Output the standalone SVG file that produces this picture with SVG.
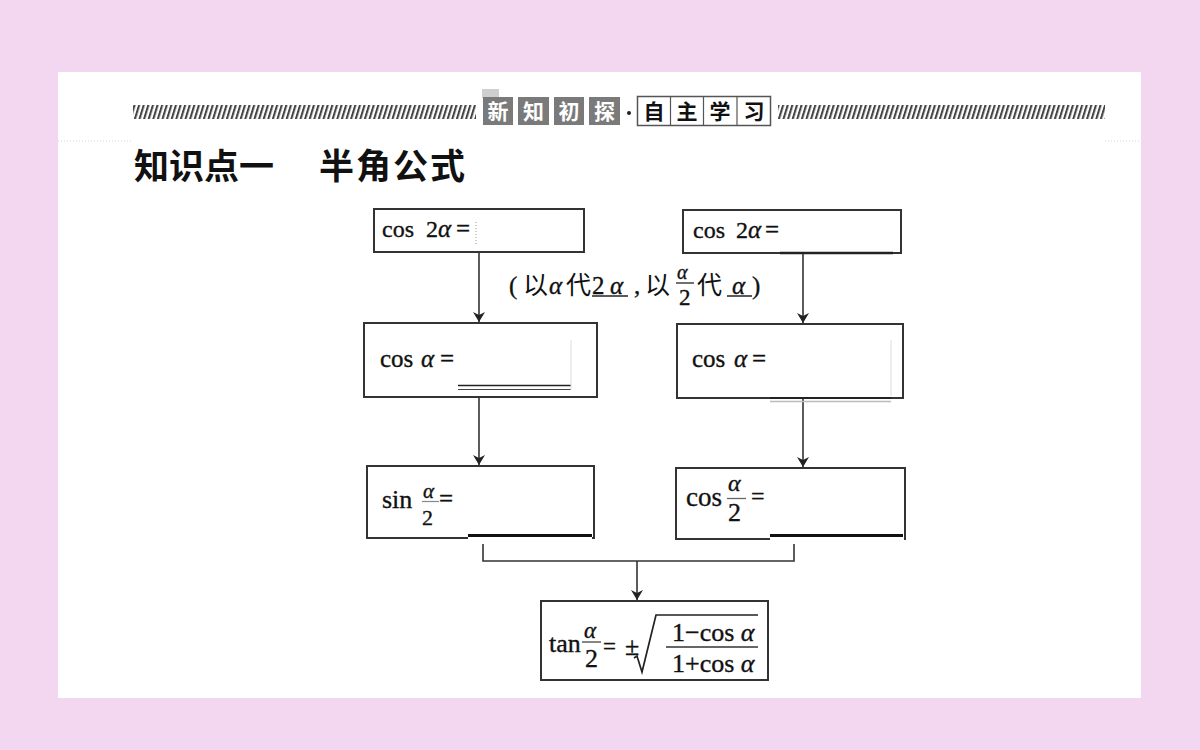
<svg xmlns="http://www.w3.org/2000/svg" width="1200" height="750" viewBox="0 0 1200 750">
<defs>
<pattern id="hatch" patternUnits="userSpaceOnUse" width="4.6" height="14" patternTransform="skewX(-17)">
<rect x="0" y="0" width="2.2" height="14" fill="#444"/>
</pattern>
<marker id="arr" viewBox="0 0 10 12" refX="10" refY="6" markerWidth="10" markerHeight="12" markerUnits="userSpaceOnUse" orient="auto">
<path d="M0,0 L10,6 L0,12 L3,6 Z" fill="#222"/>
</marker>
<style>
.box{fill:#fff;stroke:#333;stroke-width:2}
.m{font-family:"Liberation Serif","Times New Roman",serif;fill:#111;stroke:#111;stroke-width:0.35}
.i{font-style:italic}
.cj{font-family:"Noto Sans CJK SC","Noto Sans",sans-serif;fill:#111}
.con{fill:none;stroke:#333;stroke-width:1.6}
.hd{fill:#7a7a7a}
.hdt{font-family:"Noto Sans CJK SC",sans-serif;font-weight:bold;font-size:21px;fill:#fff;text-anchor:middle}
.hwt{font-family:"Noto Sans CJK SC",sans-serif;font-weight:bold;font-size:21px;fill:#111;text-anchor:middle}
</style>
</defs>
<rect x="0" y="0" width="1200" height="750" fill="#f3d7f0"/>
<rect x="58" y="72" width="1083" height="626" fill="#fff"/>

<g id="header">
<rect x="133" y="105" width="343" height="14" fill="url(#hatch)"/>
<rect x="778" y="105" width="327" height="14" fill="url(#hatch)"/>
<rect x="482" y="89" width="17" height="9" fill="#cfcfcf"/>
<rect class="hd" x="483" y="97" width="30" height="28"/>
<rect class="hd" x="518" y="97" width="31" height="28"/>
<rect class="hd" x="554" y="97" width="30" height="28"/>
<rect class="hd" x="589" y="97" width="31" height="28"/>
<text class="hdt" x="498" y="119">新</text>
<text class="hdt" x="533.5" y="119">知</text>
<text class="hdt" x="569" y="119">初</text>
<text class="hdt" x="604.5" y="119">探</text>
<circle cx="629" cy="113" r="2" fill="#222"/>
<rect x="637.5" y="96.5" width="133" height="29" fill="#fff" stroke="#555" stroke-width="1.5"/>
<line x1="670.5" y1="97" x2="670.5" y2="125" stroke="#555" stroke-width="1.2"/>
<line x1="703.5" y1="97" x2="703.5" y2="125" stroke="#555" stroke-width="1.2"/>
<line x1="737" y1="97" x2="737" y2="125" stroke="#555" stroke-width="1.2"/>
<text class="hwt" x="654" y="119">自</text>
<text class="hwt" x="687" y="119">主</text>
<text class="hwt" x="720" y="119">学</text>
<text class="hwt" x="754" y="119">习</text>
<line x1="58" y1="141" x2="133" y2="141" stroke="#e6c8e0" stroke-width="1" stroke-dasharray="1 2"/>
<line x1="1105" y1="141" x2="1141" y2="141" stroke="#e6c8e0" stroke-width="1" stroke-dasharray="1 2"/>
</g>

<g id="title">
<text class="cj" x="134" y="179" font-size="35" font-weight="bold">知识点一</text>
<text class="cj" x="319" y="179" font-size="35" font-weight="bold" letter-spacing="2">半角公式</text>
</g>

<g id="connectors">
<line class="con" x1="479" y1="253" x2="479" y2="322" marker-end="url(#arr)"/>
<line class="con" x1="803" y1="254" x2="803" y2="323" marker-end="url(#arr)"/>
<line class="con" x1="479" y1="397" x2="479" y2="465" marker-end="url(#arr)"/>
<line class="con" x1="803" y1="398" x2="803" y2="467" marker-end="url(#arr)"/>
<polyline class="con" points="483,544 483,561 794,561 794,544"/>
<line class="con" x1="637" y1="561" x2="637" y2="600" marker-end="url(#arr)"/>
</g>

<g id="label">
<text class="m" x="509" y="294" font-size="25">(</text>
<text class="cj" x="523" y="294" font-size="25">以</text>
<text class="m i" x="549" y="294" font-size="25">α</text>
<text class="cj" x="566" y="294" font-size="25">代</text>
<text class="m" x="592" y="294" font-size="25">2</text>
<text class="m i" x="610" y="294" font-size="25">α</text>
<line x1="592" y1="296" x2="628" y2="296" stroke="#222" stroke-width="1.5"/>
<text class="m" x="634" y="294" font-size="25">,</text>
<text class="cj" x="645" y="294" font-size="25">以</text>
<text class="m i" x="677" y="279" font-size="20">α</text>
<line x1="676" y1="283" x2="694" y2="283" stroke="#222" stroke-width="1.3"/>
<text class="m" x="679" y="305" font-size="23">2</text>
<text class="cj" x="697" y="294" font-size="25">代</text>
<text class="m i" x="732" y="294" font-size="25">α</text>
<line x1="727" y1="296" x2="752" y2="296" stroke="#222" stroke-width="1.5"/>
<text class="m" x="752" y="294" font-size="25">)</text>
</g>

<g id="node-cos2a-left">
<rect class="box" x="374" y="209" width="210" height="43"/>
<text class="m" x="382" y="237" font-size="24">cos</text>
<text class="m" x="426" y="237" font-size="24">2</text>
<text class="m i" x="438" y="237" font-size="25">α</text>
<text class="m" x="456" y="237" font-size="25">=</text>
<line x1="476" y1="222" x2="476" y2="246" stroke="#999" stroke-width="1" stroke-dasharray="1 2"/>
</g>

<g id="node-cos2a-right">
<rect class="box" x="683" y="210" width="218" height="43"/>
<text class="m" x="693" y="238" font-size="24">cos</text>
<text class="m" x="736" y="238" font-size="24">2</text>
<text class="m i" x="748" y="238" font-size="25">α</text>
<text class="m" x="765" y="238" font-size="25">=</text>
<line x1="780" y1="253" x2="893" y2="253" stroke="#222" stroke-width="2.4"/>
</g>

<g id="node-cosa-left">
<rect class="box" x="364" y="323" width="233" height="74"/>
<text class="m" x="380" y="367" font-size="25">cos</text>
<text class="m i" x="421" y="367" font-size="25">α</text>
<text class="m" x="440" y="367" font-size="25">=</text>
<line x1="458" y1="385.5" x2="571" y2="385.5" stroke="#222" stroke-width="1.6"/>
<line x1="458" y1="389.5" x2="571" y2="389.5" stroke="#444" stroke-width="1.2"/>
<line x1="571" y1="340" x2="571" y2="390" stroke="#ddd" stroke-width="1"/>
</g>

<g id="node-cosa-right">
<rect class="box" x="677" y="324" width="226" height="74"/>
<text class="m" x="692" y="367" font-size="25">cos</text>
<text class="m i" x="734" y="367" font-size="25">α</text>
<text class="m" x="752" y="367" font-size="25">=</text>
<line x1="770" y1="398" x2="891" y2="398" stroke="#222" stroke-width="2.2"/>
<line x1="770" y1="401.5" x2="891" y2="401.5" stroke="#bbb" stroke-width="1.4"/>
<line x1="891" y1="340" x2="891" y2="396" stroke="#ddd" stroke-width="1"/>
</g>

<g id="node-sin-half">
<rect class="box" x="367" y="466" width="227" height="72"/>
<line x1="468" y1="538" x2="592" y2="538" stroke="#fff" stroke-width="3"/>
<line x1="468" y1="535.5" x2="592" y2="535.5" stroke="#111" stroke-width="3"/>
<text class="m" x="382" y="508" font-size="26">sin</text>
<text class="m i" x="423" y="498" font-size="21">α</text>
<line x1="422" y1="501.5" x2="439" y2="501.5" stroke="#888" stroke-width="1.2"/>
<text class="m" x="422" y="525" font-size="22">2</text>
<text class="m" x="439" y="507" font-size="25">=</text>
</g>

<g id="node-cos-half">
<rect class="box" x="676" y="468" width="229" height="71"/>
<line x1="770" y1="539" x2="904" y2="539" stroke="#fff" stroke-width="3"/>
<line x1="770" y1="535.5" x2="903" y2="535.5" stroke="#111" stroke-width="3"/>
<text class="m" x="686" y="506" font-size="27">cos</text>
<text class="m i" x="728" y="491" font-size="24">α</text>
<line x1="727" y1="498.5" x2="746" y2="498.5" stroke="#666" stroke-width="1.3"/>
<text class="m" x="728" y="521" font-size="26">2</text>
<text class="m" x="751" y="504" font-size="24">=</text>
</g>

<g id="node-tan-half">
<rect class="box" x="541" y="601" width="227" height="79"/>
<text class="m" x="549" y="652" font-size="26">tan</text>
<text class="m i" x="584" y="638" font-size="23">α</text>
<line x1="582" y1="642" x2="601" y2="642" stroke="#444" stroke-width="1.3"/>
<text class="m" x="585" y="667" font-size="26">2</text>
<text class="m" x="603" y="654" font-size="23">=</text>
<text class="m" x="625" y="655" font-size="26">±</text>
<path d="M634,658 L637,656 L642,672 L656,615 L758,615" fill="none" stroke="#222" stroke-width="1.7"/>
<text class="m" x="672" y="641" font-size="26">1−cos <tspan class="i">α</tspan></text>
<line x1="666" y1="647" x2="758" y2="647" stroke="#333" stroke-width="1.6"/>
<text class="m" x="672" y="672" font-size="26">1+cos <tspan class="i">α</tspan></text>
</g>
</svg>
